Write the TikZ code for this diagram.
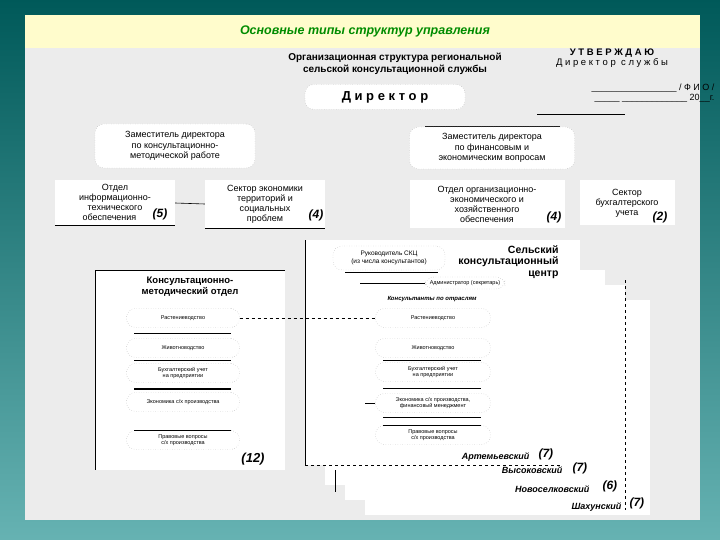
\documentclass[tikz,border=0pt]{standalone}
\usepackage{fontspec}
\setmainfont{Liberation Sans}
\begin{document}
\begin{tikzpicture}[x=1pt,y=-1pt,
  rbox/.style={fill=white,draw=gray!70,dotted,rounded corners=9pt,align=center,inner sep=2pt},
  sbox/.style={fill=white,draw=none,align=center,inner sep=2pt},
  tiny/.style={font=\fontsize{5.5}{6.3}\selectfont,align=center},
  med/.style={font=\fontsize{9}{10.5}\selectfont,align=center},
  dep/.style={font=\fontsize{9}{10}\selectfont,align=center},
  num/.style={font=\bfseries\itshape\fontsize{12}{12}\selectfont},
  dist/.style={font=\bfseries\itshape\fontsize{9}{10}\selectfont,anchor=east},
  ul/.style={draw=black,line width=0.6pt}]
\useasboundingbox (0,0) rectangle (720,540);
\fill[top color=teal!70!black,bottom color=teal!60] (0,0) rectangle (720,540);
\fill[gray!15] (25,15) rectangle (700,520);
\fill[yellow!20] (25,15) rectangle (700,48);
\node (title) at (365,31) {\color{green!55!black}\bfseries\itshape\fontsize{12.5}{14}\selectfont Основные типы структур управления};
\node[font=\bfseries\fontsize{10}{11.5}\selectfont,align=center] (head) at (395,64) {Организационная структура региональной\\сельской консультационной службы};
\node[font=\fontsize{9.5}{10.5}\selectfont,align=center] (utv) at (612,58) {\textbf{У Т В Е Р Ж Д А Ю}\\Д и р е к т о р\ \ с л у ж б ы};
\node[font=\fontsize{9}{10}\selectfont,align=right,anchor=east] (fio) at (718,93) {\_\_\_\_\_\_\_\_\_\_\_\_\_\_\_\_\_ / Ф И О /\\\_\_\_\_\_ \_\_\_\_\_\_\_\_\_\_\_\_\_ 20\_\_г.};
\coordinate (l1a) at (537,114); \coordinate (l1b) at (625,114);
\draw[ul] (l1a) -- (l1b);
\node[rbox,minimum width=160pt,minimum height=25pt,font=\bfseries\fontsize{13}{14}\selectfont] (dir) at (385,97) {Д и р е к т о р};
\node[rbox,minimum width=160pt,minimum height=44pt,med] (dep1) at (175,146) {Заместитель директора\\по консультационно-\\методической работе};
\coordinate (l2a) at (425,126); \coordinate (l2b) at (560,126);
\draw[ul] (l2a) -- (l2b);
\node[rbox,minimum width=165pt,minimum height=42pt,med] (dep2) at (492,148) {Заместитель директора\\по финансовым и\\экономическим вопросам};
\node[sbox,minimum width=120pt,minimum height=45pt,dep] (d1) at (115,203) {Отдел\\информационно-\\технического\\обеспечения\phantom{(5)}};
\node[num] at (160,214) {(5)};
\draw[ul] (d1.south west) -- (d1.south east);
\node[sbox,minimum width=120pt,minimum height=48pt,dep] (d2) at (265,204) {Сектор экономики\\территорий и\\социальных\\проблем};
\node[num] at (316,215) {(4)};
\draw[ul] (d2.south west) -- (d2.south east);
\draw[ul] (d1.east) -- (d2.west);
\node[sbox,minimum width=155pt,minimum height=48pt,dep] (d3) at (487,204) {Отдел организационно-\\экономического и\\хозяйственного\\обеспечения};
\node[num] at (554,217) {(4)};
\node[sbox,minimum width=95pt,minimum height=45pt,dep] (d4) at (627,203) {Сектор\\бухгалтерского\\учета};
\node[num] at (660,217) {(2)};
\fill[white] (95,270) rectangle (285,470);
\draw[ul] (95,270) -- (95,470);
\draw[ul] (95,270) -- (285,270);
\node[font=\bfseries\fontsize{9.5}{11}\selectfont,align=center] (kmo) at (190,287) {Консультационно-\\методический отдел};
\foreach \n/\y/\t in {a/318/{Растениеводство}, b/348/{Животноводство}, c/373/{Бухгалтерский учет\\на предприятии}, d/402/{Экономика с/х производства}, e/440/{Правовые вопросы\\с/х производства}}{
  \node[rbox,minimum width=113pt,minimum height=19pt,tiny] (L\n) at (183,\y) {\t};
}
\draw[ul] (La.south west) ++(8,6) -- ++(97,0);
\draw[ul] (Lb.south west) ++(8,3) -- ++(97,0);
\draw[ul] (Lc.south west) ++(8,7) -- ++(97,0);
\draw[ul] (Ld.north west) ++(8,-4) -- ++(97,0);
\draw[ul] (Le.north west) ++(8,0) -- ++(97,0);
\node[font=\bfseries\itshape\fontsize{13}{13}\selectfont] at (253,459) {(12)};
\fill[white] (365,300) rectangle (650,515);
\fill[white] (345,285) rectangle (625,500);
\fill[white] (325,270) rectangle (605,485);
\fill[white] (305,240) rectangle (580,465);
\draw[ul] (305,240) -- (305,465);
\draw[ul] (335,470) -- (335,492);
\draw[dashed,line width=0.6pt] (305,465) -- (560,465);
\draw[dashed,line width=0.6pt] (625,280) -- (625,510);
\node[rbox,minimum width=112pt,minimum height=24pt,font=\fontsize{6.5}{7.5}\selectfont] (ruk) at (389,258) {Руководитель СКЦ\\(из числа консультантов)};
\draw[ul] (345,272) -- (438,272);
\node[font=\bfseries\fontsize{10.5}{11.5}\selectfont,align=right,anchor=east] (skc) at (562,262) {Сельский\\консультационный\\центр};
\node[rbox,minimum width=80pt,minimum height=12pt,tiny] (adm) at (465,283) {Администратор (секретарь)};
\coordinate (admL) at (360,283);
\draw[ul] (admL) -- (adm.west);
\node[font=\bfseries\itshape\fontsize{6}{7}\selectfont] (kpo) at (432,299) {Консультанты по отраслям};
\foreach \n/\y/\t in {a/318/{Растениеводство}, b/348/{Животноводство}, c/372/{Бухгалтерский учет\\на предприятии}, d/403/{Экономика с/х производства,\\финансовый менеджмент}, e/435/{Правовые вопросы\\с/х производства}}{
  \node[rbox,minimum width=115pt,minimum height=19pt,tiny] (R\n) at (433,\y) {\t};
}
\draw[ul] (Rb.south west) ++(8,3) -- ++(98,0);
\draw[ul] (Rc.south west) ++(8,7) -- ++(98,0);
\draw[ul] (Rd.south west) ++(8,5) -- ++(98,0);
\draw[ul] (Re.north west) ++(8,0) -- ++(98,0);
\draw[ul] (Rd.west) -- ++(-10,0);
\draw[dashed,line width=0.6pt] (La.east) -- (Ra.west);
\node[dist] (art) at (533,457) {Артемьевский};
\node[num,anchor=west] at (535,454) {(7)};
\node[dist] (vys) at (566,470) {Высоковский};
\node[num,anchor=west] at (569,468) {(7)};
\node[dist] (nov) at (593,489) {Новоселковский};
\node[num,anchor=west] at (599,486) {(6)};
\node[dist] (sha) at (625,507) {Шахунский};
\node[num,anchor=west] at (626,503) {(7)};
\end{tikzpicture}
\end{document}
